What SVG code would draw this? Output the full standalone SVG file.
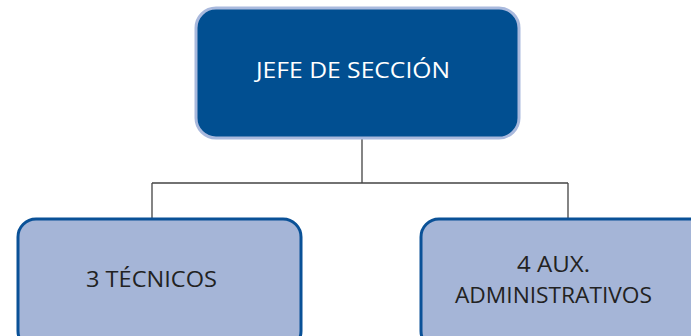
<svg xmlns="http://www.w3.org/2000/svg" width="691" height="336" viewBox="0 0 691 336">
<style>
.top{fill:#014f91;stroke:#a9b9dd;stroke-width:3}
.sub{fill:#a5b5d7;stroke:#0a5197;stroke-width:3}
.lbl{font-family:"Open Sans","DejaVu Sans",sans-serif;font-size:22px;text-anchor:middle}
.conn{fill:none;stroke:#444;stroke-width:1.3}
</style>
<rect width="691" height="336" fill="#fff"/>
<g id="connectors">
<path class="conn" d="M362 138V183M152 183H568M152 183V218M568 183V218"/>
</g>
<g id="jefe">
<rect class="top" x="196" y="8" width="323" height="130" rx="20"/>
<text class="lbl" x="353" y="78" fill="#fff" textLength="194" lengthAdjust="spacingAndGlyphs">JEFE DE SECCIÓN</text>
</g>
<g id="tecnicos">
<rect class="sub" x="18" y="219" width="283" height="130" rx="18"/>
<text class="lbl" x="151.5" y="287" fill="#222" textLength="131" lengthAdjust="spacingAndGlyphs">3 TÉCNICOS</text>
</g>
<g id="aux">
<rect class="sub" x="421" y="219" width="290" height="130" rx="18"/>
<text class="lbl" x="553.5" y="272" fill="#222" textLength="73" lengthAdjust="spacingAndGlyphs">4 AUX.</text>
<text class="lbl" x="553.5" y="303" fill="#222" textLength="197" lengthAdjust="spacingAndGlyphs">ADMINISTRATIVOS</text>
</g>
</svg>
